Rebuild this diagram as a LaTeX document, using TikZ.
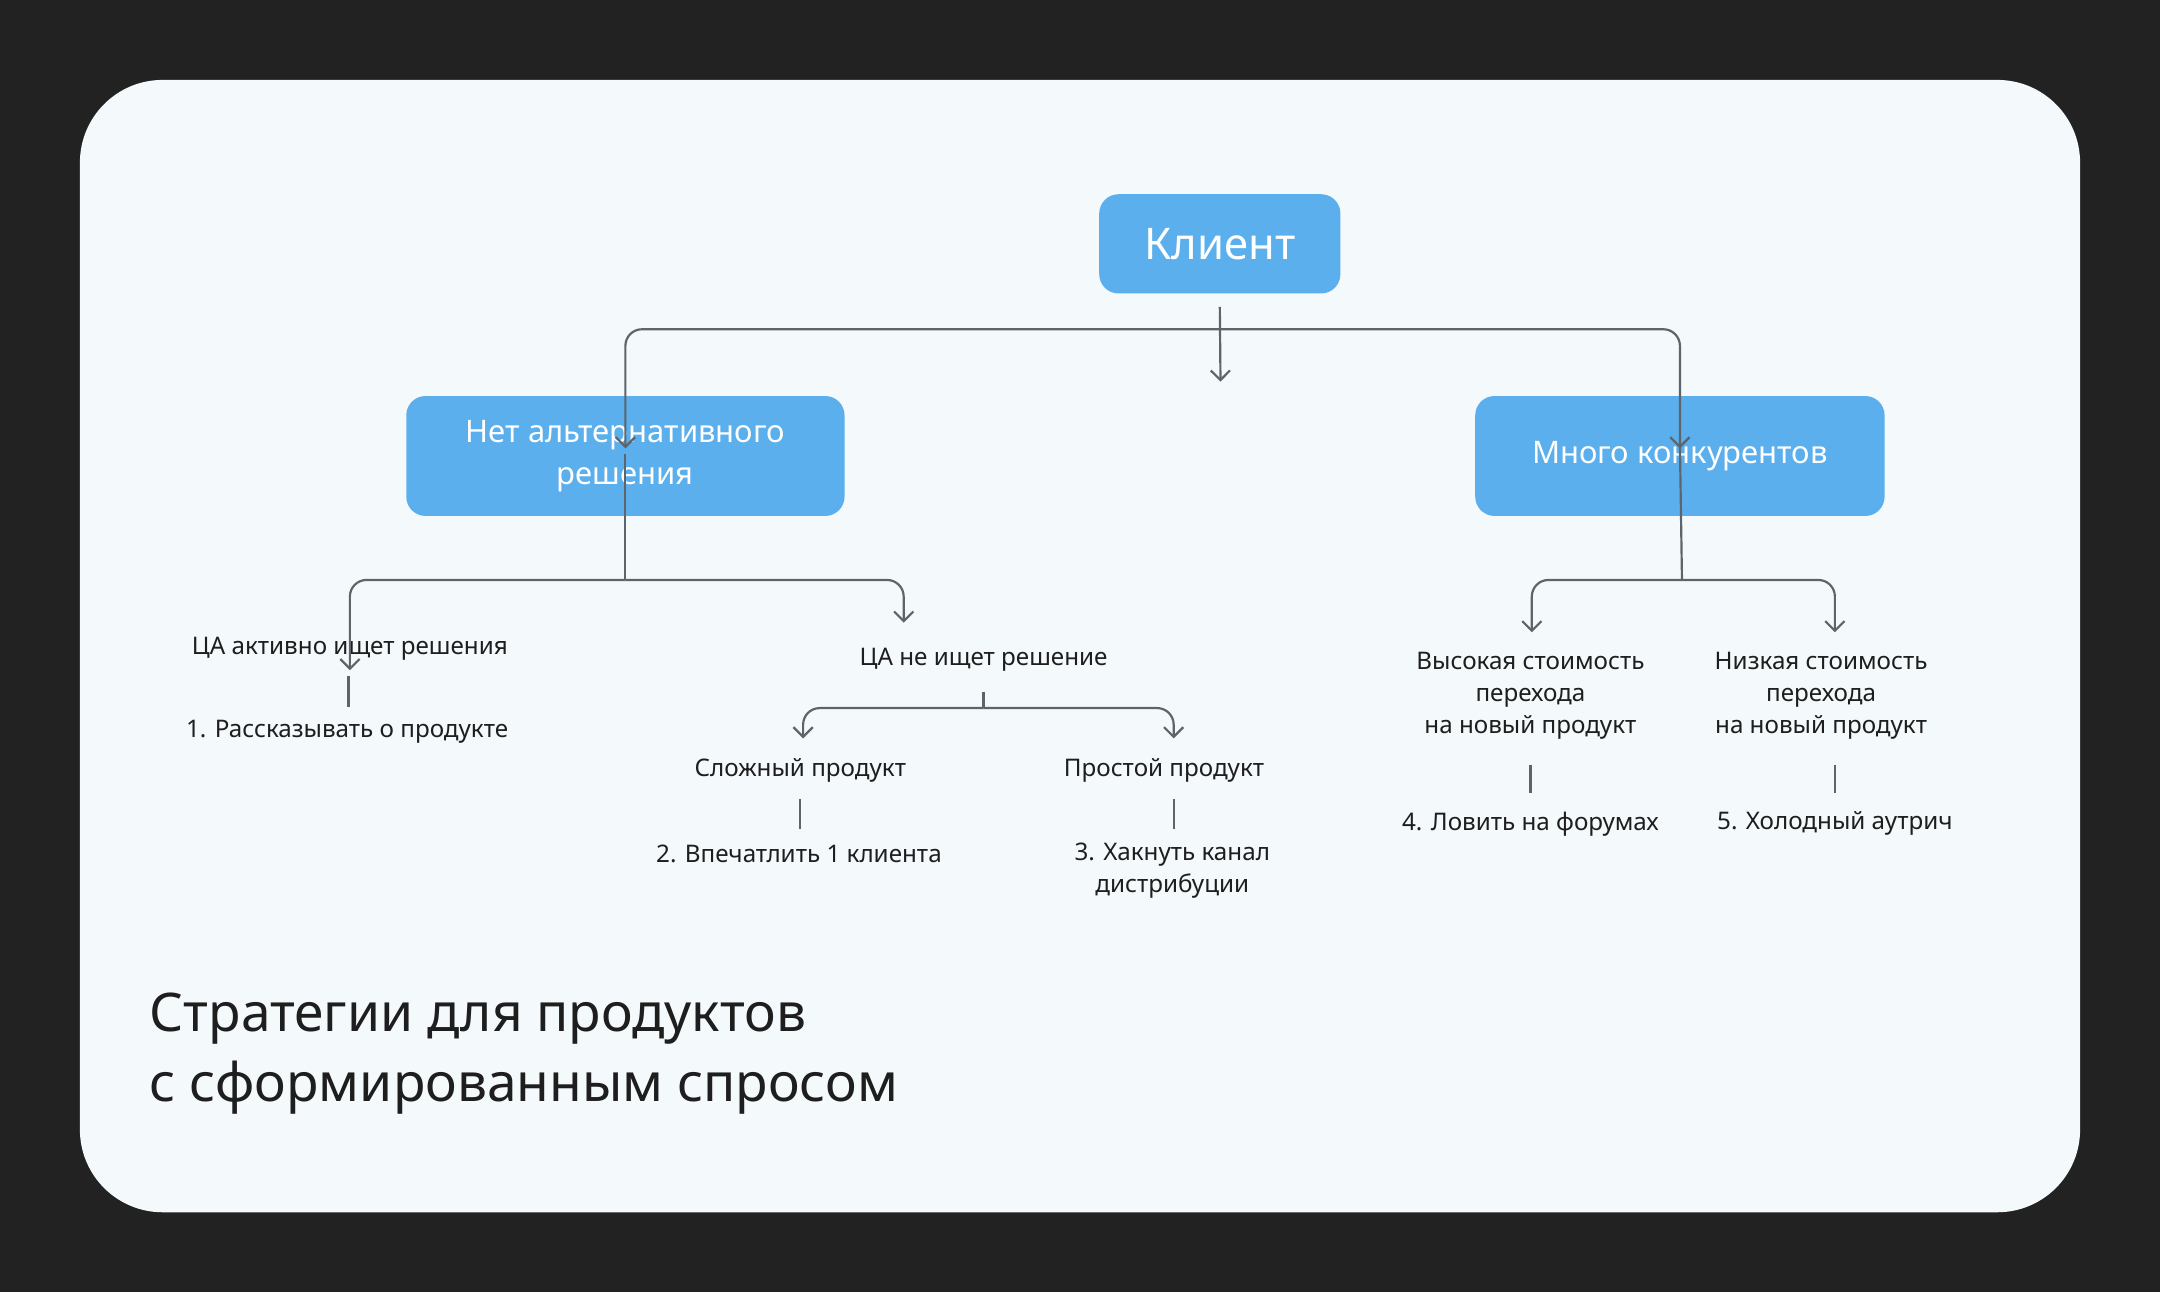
\documentclass[tikz,border=0pt]{standalone}
\usepackage{fontspec}
\setmainfont{Noto Sans}
\usetikzlibrary{arrows.meta,positioning}
\definecolor{bgdark}{HTML}{222222}
\definecolor{card}{HTML}{F4F9FC}
\definecolor{boxblue}{HTML}{5AAFEC}
\definecolor{linegray}{HTML}{5E6469}
\definecolor{txt}{HTML}{1E1E1E}
\tikzset{
  box/.style={fill=boxblue, rounded corners=0.14cm, text=white, align=center, inner sep=0pt},
  lbl/.style={text=txt, font=\fontsize{5pt}{6.6pt}\selectfont, align=center, inner sep=1pt},
  link/.style={draw=linegray, line width=0.45pt, rounded corners=0.12cm},
  arr/.style={link, -{Straight Barb[length=0.07cm, width=0.14cm]}},
}
\begin{document}
\begin{tikzpicture}[x=0.01cm, y=-0.01cm]
    % Background and card
    \fill[bgdark] (0,0) rectangle (1568,938);
    \useasboundingbox (0,0) rectangle (1568,938);
    \fill[card, rounded corners=0.6cm] (58,58) rectangle (1510,880);

    % Top level boxes
    \node[box, minimum width=1.75cm, minimum height=0.72cm, font=\fontsize{9pt}{10pt}\selectfont\bfseries] (client) at (885.5,177) {Клиент};
    \node[box, minimum width=3.18cm, minimum height=0.87cm, font=\fontsize{6.4pt}{8.6pt}\selectfont\bfseries] (noalt) at (454,331) {Нет альтернативного\\решения};
    \node[box, minimum width=2.97cm, minimum height=0.87cm, font=\fontsize{6.4pt}{8.6pt}\selectfont\bfseries] (many) at (1219.5,331) {Много конкурентов};

    % Branch from client
    \coordinate (cmid) at (886,277);
    \draw[arr] (client.south) ++(0,9) -- (cmid);
    \draw[arr] (886,239) -| ([yshift=-11]noalt.north);
    \draw[arr] (886,239) -| ([yshift=-11]many.north);

    % Left branch
    \node[lbl] (search) at (254,471) {ЦА активно ищет решения};
    \node[lbl] (tell) at (252,531) {1. Рассказывать о продукте};
    \node[lbl] (nosearch) at (714,479) {ЦА не ищет решение};
    \draw[link] ([yshift=13]noalt.south) -- (454,421);
    \draw[arr] (454,421) -| ([yshift=-8]search.north);
    \draw[arr] (454,421) -| (656,452);
    \draw[link] (253,491) -- (253,513);

    \node[lbl] (hard) at (581,559) {Сложный продукт};
    \node[lbl] (impress) at (580,620) {2. Впечатлить 1 клиента};
    \node[lbl] (easy) at (845,559) {Простой продукт};
    \node[lbl] (hack) at (851,632) {3. Хакнуть канал\\дистрибуции};
    \draw[link] (714,502) -- (714,514);
    \draw[arr] (714,514) -| (583,536);
    \draw[arr] (714,514) -| (852,536);
    \draw[link] (581,580) -- (581,602);
    \draw[link] (852,580) -- (852,602);

    % Right branch
    \node[lbl] (high) at (1111,505) {Высокая стоимость\\перехода\\на новый продукт};
    \node[lbl] (forum) at (1111,598) {4. Ловить на форумах};
    \node[lbl] (low) at (1322,505) {Низкая стоимость\\перехода\\на новый продукт};
    \node[lbl] (cold) at (1332,598) {5. Холодный аутрич};
    \draw[link] ([yshift=15]many.south) -- (1221,421);
    \draw[arr] (1221,421) -| (1112,459);
    \draw[arr] (1221,421) -| (1332,459);
    \draw[link] (1111,555) -- (1111,576);
    \draw[link] (1332,555) -- (1332,576);

    % Title
    \node[anchor=west, text=txt, align=left, inner sep=0pt, font=\fontsize{11pt}{14.5pt}\selectfont\bfseries] (title) at (108,765) {Стратегии для продуктов\\с сформированным спросом};
\end{tikzpicture}
\end{document}
